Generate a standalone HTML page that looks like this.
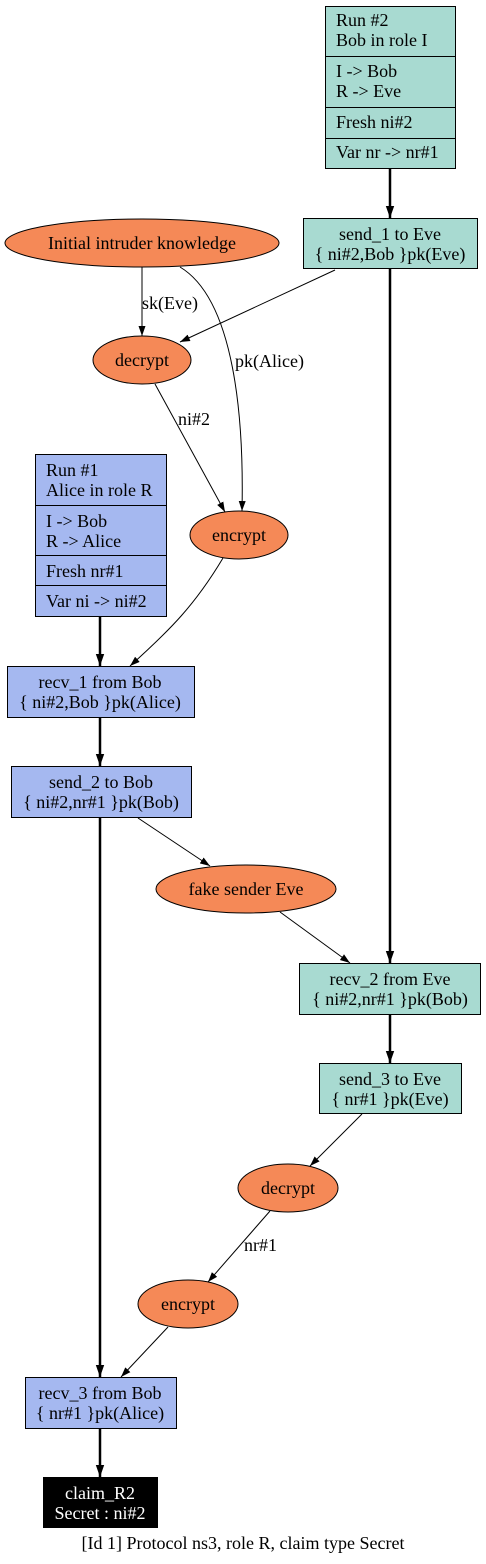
<!DOCTYPE html>
<html><head><meta charset="utf-8"><style>
html,body{margin:0;padding:0;background:#fff}
svg{display:block}
text{font-family:"Liberation Serif",serif;font-size:18px;fill:#000}
</style></head><body>
<svg width="486" height="1564" viewBox="0 0 486 1564" xmlns="http://www.w3.org/2000/svg">
<defs>
<marker id="a" viewBox="0 0 10 10" refX="10" refY="5" markerWidth="10" markerHeight="10" markerUnits="userSpaceOnUse" orient="auto"><path d="M0,1.5 L10,5 L0,8.5 z" fill="#000"/></marker>
<marker id="b" viewBox="0 0 10 10" refX="10" refY="5" markerWidth="12" markerHeight="12" markerUnits="userSpaceOnUse" orient="auto"><path d="M0,1.5 L10,5 L0,8.5 z" fill="#000"/></marker>
</defs>
<g stroke="#000" fill="none">
<line x1="390" y1="168" x2="390" y2="218" stroke-width="2.5" marker-end="url(#b)"/>
<line x1="390" y1="268" x2="390" y2="963" stroke-width="2.5" marker-end="url(#b)"/>
<line x1="390" y1="1014" x2="390" y2="1063" stroke-width="2.5" marker-end="url(#b)"/>
<line x1="100" y1="616" x2="100" y2="666" stroke-width="2.5" marker-end="url(#b)"/>
<line x1="100" y1="717" x2="100" y2="766" stroke-width="2.5" marker-end="url(#b)"/>
<line x1="100" y1="817" x2="100" y2="1377" stroke-width="2.5" marker-end="url(#b)"/>
<line x1="100" y1="1428" x2="100" y2="1477" stroke-width="2.5" marker-end="url(#b)"/>
<line x1="142" y1="267" x2="142" y2="336" marker-end="url(#a)"/>
<line x1="335" y1="270" x2="180" y2="342" marker-end="url(#a)"/>
<path d="M180,267 C235,300 244,420 242,511" marker-end="url(#a)"/>
<line x1="155" y1="384" x2="225" y2="512" marker-end="url(#a)"/>
<path d="M223,558 C195,605 170,630 130,666" marker-end="url(#a)"/>
<line x1="138" y1="818" x2="210" y2="866" marker-end="url(#a)"/>
<line x1="280" y1="912" x2="350" y2="963" marker-end="url(#a)"/>
<line x1="362" y1="1114" x2="310" y2="1166" marker-end="url(#a)"/>
<line x1="270" y1="1211" x2="208" y2="1282" marker-end="url(#a)"/>
<line x1="168" y1="1327" x2="121" y2="1377" marker-end="url(#a)"/>
</g>
<g stroke="#000" fill="#a8dad1">
<rect x="325.5" y="6.5" width="130" height="162"/>
<line x1="325.5" y1="56.5" x2="455.5" y2="56.5"/>
<line x1="325.5" y1="107.5" x2="455.5" y2="107.5"/>
<line x1="325.5" y1="138.5" x2="455.5" y2="138.5"/>
<rect x="303.5" y="218.5" width="174" height="50"/>
<rect x="299.5" y="963.5" width="181" height="51"/>
<rect x="319.5" y="1063.5" width="142" height="50"/>
</g>
<g stroke="#000" fill="#a5b8f0">
<rect x="35.5" y="454.5" width="131" height="162"/>
<line x1="35.5" y1="505.5" x2="166.5" y2="505.5"/>
<line x1="35.5" y1="555.5" x2="166.5" y2="555.5"/>
<line x1="35.5" y1="585.5" x2="166.5" y2="585.5"/>
<rect x="7.5" y="666.5" width="187" height="51"/>
<rect x="11.5" y="766.5" width="180" height="51"/>
<rect x="25.5" y="1377.5" width="151" height="51"/>
</g>
<rect x="43" y="1477" width="115" height="51" fill="#000"/>
<g stroke="#000" fill="#f58957">
<ellipse cx="142" cy="243" rx="137" ry="24"/>
<ellipse cx="142" cy="360" rx="49" ry="24"/>
<ellipse cx="239" cy="535" rx="49" ry="24"/>
<ellipse cx="246" cy="889" rx="90" ry="24"/>
<ellipse cx="288" cy="1188" rx="50" ry="24"/>
<ellipse cx="188" cy="1304" rx="50" ry="24"/>
</g>
<text x="336" y="26">Run #2</text>
<text x="336" y="46">Bob in role I</text>
<text x="336" y="77">I -&gt; Bob</text>
<text x="336" y="97">R -&gt; Eve</text>
<text x="336" y="128">Fresh ni#2</text>
<text x="336" y="158">Var nr -&gt; nr#1</text>
<text x="46" y="476">Run #1</text>
<text x="46" y="496">Alice in role R</text>
<text x="46" y="527">I -&gt; Bob</text>
<text x="46" y="547">R -&gt; Alice</text>
<text x="46" y="577">Fresh nr#1</text>
<text x="46" y="607">Var ni -&gt; ni#2</text>
<g text-anchor="middle">
<text x="390" y="240">send_1 to Eve</text>
<text x="390" y="260">{ ni#2,Bob }pk(Eve)</text>
<text x="142" y="249">Initial intruder knowledge</text>
<text x="142" y="366">decrypt</text>
<text x="239" y="541">encrypt</text>
<text x="100" y="688">recv_1 from Bob</text>
<text x="100" y="708">{ ni#2,Bob }pk(Alice)</text>
<text x="101" y="788">send_2 to Bob</text>
<text x="101" y="808">{ ni#2,nr#1 }pk(Bob)</text>
<text x="246" y="895">fake sender Eve</text>
<text x="390" y="985">recv_2 from Eve</text>
<text x="390" y="1005">{ ni#2,nr#1 }pk(Bob)</text>
<text x="390" y="1085">send_3 to Eve</text>
<text x="390" y="1105">{ nr#1 }pk(Eve)</text>
<text x="288" y="1194">decrypt</text>
<text x="188" y="1310">encrypt</text>
<text x="100" y="1399">recv_3 from Bob</text>
<text x="100" y="1419">{ nr#1 }pk(Alice)</text>
<text x="100" y="1499" style="fill:#fff">claim_R2</text>
<text x="100" y="1519" style="fill:#fff">Secret : ni#2</text>
<text x="243" y="1549">[Id 1] Protocol ns3, role R, claim type Secret</text>
</g>
<text x="142" y="309">sk(Eve)</text>
<text x="235" y="367">pk(Alice)</text>
<text x="178" y="425">ni#2</text>
<text x="244" y="1251">nr#1</text>
</svg>
</body></html>
